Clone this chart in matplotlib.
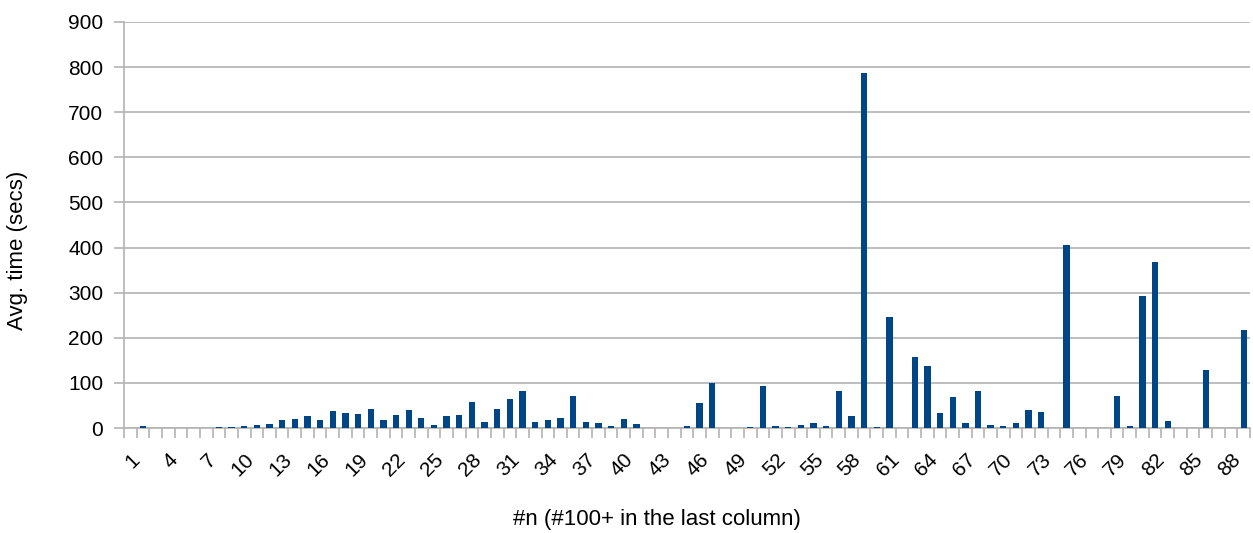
import matplotlib
matplotlib.use("Agg")
import matplotlib.pyplot as plt
import matplotlib.transforms as mtransforms
import numpy as np

plt.rcParams['font.family'] = ['Liberation Sans', 'DejaVu Sans']

categories = [str(i) for i in range(1, 89)] + ["100+"]
avg_time = [
    0, 5, 0, 0, 0, 1, 1, 1.5, 2, 4,
    6, 9, 18, 21, 26, 17, 38, 34, 31, 43,
    18, 28, 40, 22, 7, 27, 28, 58, 13, 42,
    65, 82, 13, 18, 23, 72, 13, 10, 5, 21,
    9, 0, 0, 1, 5, 55, 100, 0, 0, 2,
    92, 4, 3, 6, 10, 4, 82, 27, 788, 2,
    245, 1, 157, 138, 34, 69, 11, 82, 6, 5,
    10, 40, 35, 0, 405, 0, 1, 1, 70, 4,
    292, 368, 15, 0, 0, 128, 0, 1, 218,
]
y_ticks = list(range(0, 901, 100))

W, H = 1253, 533
fig = plt.figure(figsize=(W / 100, H / 100), dpi=100)
left, right, top, bottom = 124, 1250, 22, 428
ax = fig.add_axes([left / W, 1 - bottom / H, (right - left) / W, (bottom - top) / H])

x = np.arange(len(categories))
ax.bar(x, avg_time, width=0.5, color='#004586', zorder=3)

ax.set_xlim(-0.5, len(categories) - 0.5)
ax.set_ylim(0, 900)
ax.set_yticks(y_ticks)
ax.set_yticklabels([str(v) for v in y_ticks], fontsize=15)
ax.yaxis.grid(True, color='#b3b3b3', linewidth=1.2, zorder=0)

major = x[::3]
ax.set_xticks(major)
ax.set_xticklabels([categories[i] for i in major], fontsize=15,
                   rotation=45, ha='right', va='top', rotation_mode='anchor')
offset = mtransforms.ScaledTranslation(-4 / 100, 0, fig.dpi_scale_trans)
for lbl in ax.get_xticklabels():
    lbl.set_transform(lbl.get_transform() + offset)
ax.set_xticks(np.arange(-0.5, len(categories)), minor=True)
ax.tick_params(axis='x', which='major', length=0, pad=16)
ax.tick_params(axis='x', which='minor', length=7, color='#b3b3b3', width=1.2)
ax.tick_params(axis='y', length=7, color='#b3b3b3', width=1.2, pad=8)

for s in ['top', 'right']:
    ax.spines[s].set_visible(False)
for s in ['left', 'bottom']:
    ax.spines[s].set_color('#b3b3b3')
    ax.spines[s].set_linewidth(1.2)

fig.text(18 / W, 1 - 250 / H, 'Avg. time (secs)', fontsize=16,
         rotation=90, ha='center', va='center')
fig.text(657 / W, 1 - 519 / H, '#n (#100+ in the last column)', fontsize=16,
         ha='center', va='center')

fig.savefig('out.png', dpi=100)
